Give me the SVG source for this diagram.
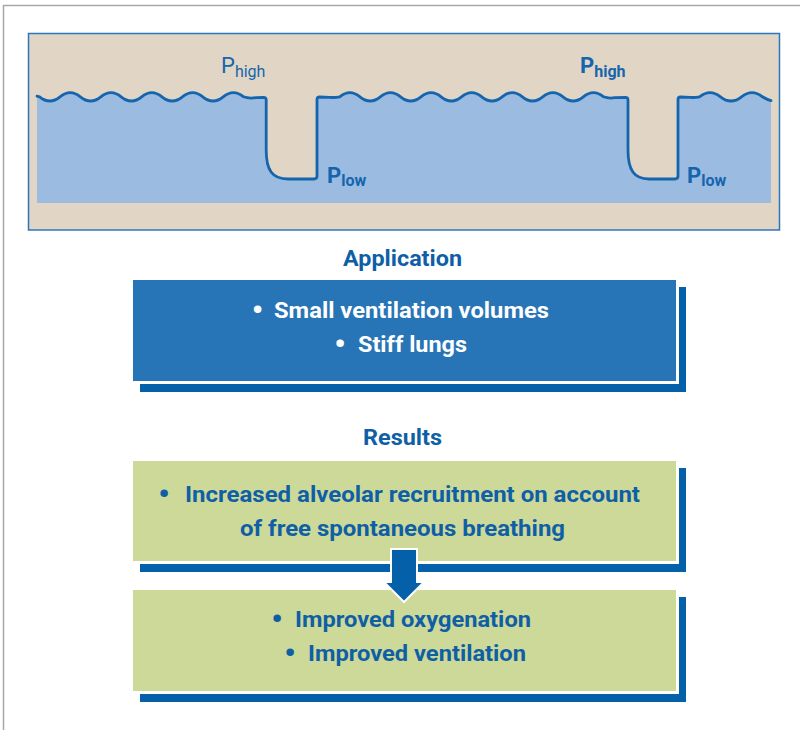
<svg xmlns="http://www.w3.org/2000/svg" width="800" height="730" viewBox="0 0 800 730">
<defs>
<style>
text{font-family:Roboto,"Liberation Sans",Arial,sans-serif;}
.title{font-size:22px;font-weight:bold;fill:#0F5FA6;text-anchor:middle;}
.wt{font-size:22px;font-weight:bold;fill:#ffffff;}
.bt{font-size:22px;font-weight:bold;fill:#0F5FA6;}
.bulw{font-size:32px;font-weight:bold;fill:#ffffff;text-anchor:middle;}
.bulb{font-size:32px;font-weight:bold;fill:#0F5FA6;text-anchor:middle;}
.plab{font-size:22px;fill:#1565AE;}
.shadow{fill:#0461A9;}
.gap{fill:#ffffff;}
.bluebox{fill:#2775B6;}
.greenbox{fill:#CCD998;}
.wave{fill:none;stroke:#1565AE;stroke-width:2.8;stroke-linejoin:round;stroke-linecap:round;}
</style>
</defs>
<rect x="0" y="0" width="800" height="730" fill="#ffffff"/>
<path d="M3.5,730 L3.5,5.5 L800,5.5" fill="none" stroke="#A8A8A8" stroke-width="1.5"/>

<g id="pressure-panel">
<rect x="28.5" y="33.5" width="751" height="196.5" fill="#E1D6C5" stroke="#2A77BC" stroke-width="1.5"/>
<path id="water" fill="#9BBBE1" d="M37,96.2 L39.6,96.8 c6.8,5.6 13.6,5.6 20.4,0 c6.8,-5.6 13.6,-5.6 20.4,0 c6.8,5.6 13.6,5.6 20.4,0 c6.8,-5.6 13.6,-5.6 20.4,0 c6.8,5.6 13.6,5.6 20.4,0 c6.8,-5.6 13.6,-5.6 20.4,0 c6.8,5.6 13.6,5.6 20.4,0 c6.8,-5.6 13.6,-5.6 20.4,0 c6.8,5.6 13.6,5.6 20.4,0 c6.8,-5.6 13.6,-5.6 20.4,0 Q249,98.8 256,97.6 L263.5,97.3 Q266.2,97.3 266.2,100 L266.2,150 C266.2,170 272,179 288,179 L314,179 Q317,179 317,176 L317,99.6 Q317,97 319.6,97 L330,97.4 Q335,97.8 339.7,96.8 c6.77,-5.6 13.53,-5.6 20.3,0 c6.77,5.6 13.53,5.6 20.3,0 c6.77,-5.6 13.53,-5.6 20.3,0 c6.77,5.6 13.53,5.6 20.3,0 c6.77,-5.6 13.53,-5.6 20.3,0 c6.77,5.6 13.53,5.6 20.3,0 c6.77,-5.6 13.53,-5.6 20.3,0 c6.77,5.6 13.53,5.6 20.3,0 c6.77,-5.6 13.53,-5.6 20.3,0 c6.77,5.6 13.53,5.6 20.3,0 c6.77,-5.6 13.53,-5.6 20.3,0 c6.77,5.6 13.53,5.6 20.3,0 c6.77,-5.6 13.53,-5.6 20.3,0 Q609,98.8 615,97.6 L625.5,97.3 Q628,97.3 628,100 L628,150 C628,170 634,179 649,179 L675,179 Q678,179 678,176 L678,99.6 Q678,97 680.6,97 L690,97.4 Q695,97.8 699.5,96.8 c7,-5.6 14,-5.6 21,0 c7,5.6 14,5.6 21,0 c7,-5.6 14,-5.6 21,0 Q767,99.6 771,100.6 L771,203 L37,203 Z"/>
<path class="wave" d="M37,96.2 L39.6,96.8 c6.8,5.6 13.6,5.6 20.4,0 c6.8,-5.6 13.6,-5.6 20.4,0 c6.8,5.6 13.6,5.6 20.4,0 c6.8,-5.6 13.6,-5.6 20.4,0 c6.8,5.6 13.6,5.6 20.4,0 c6.8,-5.6 13.6,-5.6 20.4,0 c6.8,5.6 13.6,5.6 20.4,0 c6.8,-5.6 13.6,-5.6 20.4,0 c6.8,5.6 13.6,5.6 20.4,0 c6.8,-5.6 13.6,-5.6 20.4,0 Q249,98.8 256,97.6 L263.5,97.3 Q266.2,97.3 266.2,100 L266.2,150 C266.2,170 272,179 288,179 L314,179 Q317,179 317,176 L317,99.6 Q317,97 319.6,97 L330,97.4 Q335,97.8 339.7,96.8 c6.77,-5.6 13.53,-5.6 20.3,0 c6.77,5.6 13.53,5.6 20.3,0 c6.77,-5.6 13.53,-5.6 20.3,0 c6.77,5.6 13.53,5.6 20.3,0 c6.77,-5.6 13.53,-5.6 20.3,0 c6.77,5.6 13.53,5.6 20.3,0 c6.77,-5.6 13.53,-5.6 20.3,0 c6.77,5.6 13.53,5.6 20.3,0 c6.77,-5.6 13.53,-5.6 20.3,0 c6.77,5.6 13.53,5.6 20.3,0 c6.77,-5.6 13.53,-5.6 20.3,0 c6.77,5.6 13.53,5.6 20.3,0 c6.77,-5.6 13.53,-5.6 20.3,0 Q609,98.8 615,97.6 L625.5,97.3 Q628,97.3 628,100 L628,150 C628,170 634,179 649,179 L675,179 Q678,179 678,176 L678,99.6 Q678,97 680.6,97 L690,97.4 Q695,97.8 699.5,96.8 c7,-5.6 14,-5.6 21,0 c7,5.6 14,5.6 21,0 c7,-5.6 14,-5.6 21,0 Q767,99.6 771,100.6"/>
<text class="plab" x="221" y="73" font-size="23">P<tspan font-size="16" dy="4">high</tspan></text>
<text class="plab" x="580" y="73" font-weight="bold">P<tspan font-size="16" dy="4">high</tspan></text>
<text class="plab" x="327" y="183" font-weight="bold">P<tspan font-size="16" dy="3">low</tspan></text>
<text class="plab" x="687" y="183" font-weight="bold">P<tspan font-size="16" dy="3">low</tspan></text>
</g>

<g id="application-title">
<text class="title" x="402.5" y="266" textLength="119" lengthAdjust="spacingAndGlyphs">Application</text>
</g>

<g id="application-box">
<rect class="shadow" x="140" y="287" width="546" height="105"/>
<rect class="gap" x="130" y="277" width="549" height="107"/>
<rect class="bluebox" x="133" y="280" width="543" height="101"/>
<text class="bulw" x="257.5" y="321">•</text>
<text class="wt" x="274" y="318" textLength="275" lengthAdjust="spacingAndGlyphs">Small ventilation volumes</text>
<text class="bulw" x="340" y="355">•</text>
<text class="wt" x="358" y="352" textLength="109" lengthAdjust="spacingAndGlyphs">Stiff lungs</text>
</g>

<g id="results-title">
<text class="title" x="402.5" y="445" textLength="79" lengthAdjust="spacingAndGlyphs">Results</text>
</g>

<g id="results-box-1">
<rect class="shadow" x="140" y="468" width="546" height="104"/>
<rect class="gap" x="130" y="458" width="549" height="106"/>
<rect class="greenbox" x="133" y="461" width="543" height="100"/>
<text class="bulb" x="164" y="505">•</text>
<text class="bt" x="185" y="502" textLength="455" lengthAdjust="spacingAndGlyphs">Increased alveolar recruitment on account</text>
<text class="bt" x="240" y="536" textLength="325" lengthAdjust="spacingAndGlyphs">of free spontaneous breathing</text>
</g>

<g id="results-box-2">
<rect class="shadow" x="140" y="597" width="546" height="105"/>
<rect class="gap" x="130" y="587" width="549" height="107"/>
<rect class="greenbox" x="133" y="590" width="543" height="101"/>
<text class="bulb" x="277" y="630">•</text>
<text class="bt" x="295" y="627" textLength="236" lengthAdjust="spacingAndGlyphs">Improved oxygenation</text>
<text class="bulb" x="290" y="664">•</text>
<text class="bt" x="308" y="661" textLength="218" lengthAdjust="spacingAndGlyphs">Improved ventilation</text>
</g>

<g id="connectors">
<polygon points="391,549 417,549 417,582 424,582 404,602 384,582 391,582" fill="#0461A9" stroke="#ffffff" stroke-width="2" stroke-linejoin="miter"/>
</g>
</svg>
